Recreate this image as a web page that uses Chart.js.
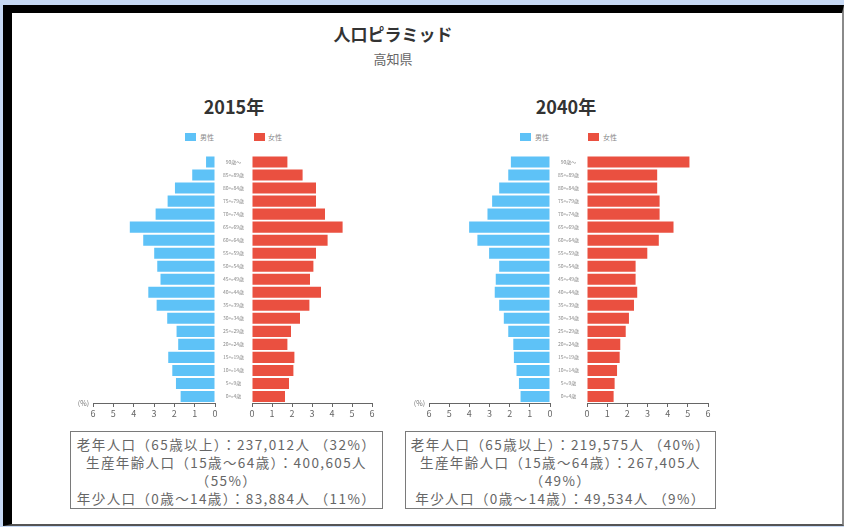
<!DOCTYPE html>
<html lang="ja">
<head>
<meta charset="utf-8">
<title>人口ピラミッド</title>
<script src="https://cdn.jsdelivr.net/npm/chart.js@4.4.0/dist/chart.umd.min.js"></script>
<style>
  html, body { margin: 0; padding: 0; }
  body {
    width: 844px; height: 527px; position: relative; overflow: hidden;
    background: #c7d9f4;
    font-family: "Noto Sans CJK JP", "Noto Sans", sans-serif;
  }
  .frame {
    position: absolute; left: 3px; top: 5px; width: 830px; height: 511px;
    background: #fff;
    border-left: 9px solid #000; border-top: 8px solid #000;
    border-right: 2px solid #8a8a8a; border-bottom: 2px solid #555;
  }
  .abs { position: absolute; }
  .title { left: 293px; top: 21px; width: 200px; text-align: center; font-size: 17px; font-weight: bold; color: #333; }
  .sub { left: 293px; top: 49px; width: 200px; text-align: center; font-size: 13px; color: #666; }
  .year { width: 120px; text-align: center; font-size: 18px; font-weight: bold; color: #333; top: 93px; }
  .box { width: 11px; height: 8px; }
  .lg { font-size: 7px; color: #888; line-height: 8px; }
  .info {
    box-sizing: border-box; top: 431px; height: 78px;
    border: 1.5px solid #7a7a7a; padding-top: 3px;
    text-align: center; font-size: 13.5px; line-height: 18px; color: #666;
    letter-spacing: 1.4px;
  }
  canvas { position: absolute; }
</style>
</head>
<body>
<div class="frame"></div>
<div class="abs title">人口ピラミッド</div>
<div class="abs sub">高知県</div>

<div class="abs year" style="left:174px">2015年</div>
<div class="abs box" style="left:185px;top:133px;background:#5ec2f7"></div>
<div class="abs lg" style="left:200px;top:133px">男性</div>
<div class="abs box" style="left:254px;top:133px;background:#ea5040"></div>
<div class="abs lg" style="left:268px;top:133px">女性</div>

<div class="abs year" style="left:506px">2040年</div>
<div class="abs box" style="left:520px;top:133px;background:#5ec2f7"></div>
<div class="abs lg" style="left:535px;top:133px">男性</div>
<div class="abs box" style="left:588px;top:133px;background:#ea5040"></div>
<div class="abs lg" style="left:603px;top:133px">女性</div>

<canvas id="m2015" width="147" height="273" style="left:73px;top:150px"></canvas>
<canvas id="f2015" width="165" height="273" style="left:215px;top:150px"></canvas>
<canvas id="m2040" width="146" height="273" style="left:409px;top:150px"></canvas>
<canvas id="f2040" width="166" height="273" style="left:550px;top:150px"></canvas>

<div class="abs info" style="left:70px;width:313px">
  <div>老年人口（65歳以上）：237,012人 （32%）</div>
  <div>生産年齢人口（15歳～64歳）：400,605人</div>
  <div>（55%）</div>
  <div>年少人口（0歳～14歳）：83,884人 （11%）</div>
</div>
<div class="abs info" style="left:405px;width:311px">
  <div>老年人口（65歳以上）：219,575人 （40%）</div>
  <div>生産年齢人口（15歳～64歳）：267,405人</div>
  <div>（49%）</div>
  <div>年少人口（0歳～14歳）：49,534人 （9%）</div>
</div>

<script>
// age groups, top row first
const ageLabels = ['90歳～', '85～89歳', '80～84歳', '75～79歳', '70～74歳', '65～69歳',
    '60～64歳', '55～59歳', '50～54歳', '45～49歳', '40～44歳', '35～39歳', '30～34歳',
    '25～29歳', '20～24歳', '15～19歳', '10～14歳', '5～9歳', '0～4歳'];

// share of total population (%)
const male2015 = [0.44, 1.12, 1.97, 2.33, 2.92, 4.19, 3.53, 2.99, 2.84, 2.68,
    3.28, 2.87, 2.35, 1.89, 1.81, 2.30, 2.10, 1.92, 1.69];
const female2015 = [1.77, 2.53, 3.20, 3.20, 3.65, 4.53, 3.78, 3.20, 3.07, 2.90,
    3.45, 2.87, 2.40, 1.95, 1.77, 2.12, 2.07, 1.85, 1.65];
const male2040 = [1.94, 2.07, 2.52, 2.87, 3.10, 4.01, 3.60, 3.02, 2.52, 2.69,
    2.74, 2.52, 2.29, 2.07, 1.82, 1.79, 1.66, 1.54, 1.46];
const female2040 = [5.08, 3.48, 3.48, 3.60, 3.60, 4.29, 3.56, 2.99, 2.41, 2.41,
    2.49, 2.33, 2.08, 1.92, 1.65, 1.62, 1.49, 1.37, 1.32];

const pctTicks = [0, 1, 2, 3, 4, 5, 6];

const MALE_COLOR = '#5ec2f7';
const FEMALE_COLOR = '#ea5040';
const FONT = '"Noto Sans CJK JP", "Noto Sans", sans-serif';

const pctLabel = {
    id: 'pctLabel',
    afterDraw(chart) {
        const { ctx, chartArea } = chart;
        ctx.save();
        ctx.font = '7px ' + FONT;
        ctx.fillStyle = '#777';
        ctx.textAlign = 'right';
        ctx.textBaseline = 'middle';
        ctx.fillText('(%)', chartArea.left - 4, chartArea.bottom);
        ctx.restore();
    }
};

function xScale(reverse) {
    return {
        type: 'linear',
        reverse: reverse,
        min: pctTicks[0],
        max: pctTicks[pctTicks.length - 1],
        afterFit: (s) => { s.height = 20; },
        afterBuildTicks: (s) => { s.ticks = pctTicks.map(v => ({ value: v })); },
        border: { display: true, color: '#666', width: 1 },
        grid: { drawOnChartArea: false, tickLength: 4, color: '#666' },
        ticks: { color: '#666', font: { family: FONT, size: 9 }, padding: 1, maxRotation: 0 }
    };
}

function renderHalf(id, values, color, isMale) {
    const ctx = document.getElementById(id).getContext('2d');
    new Chart(ctx, {
        type: 'bar',
        data: {
            labels: ageLabels,
            datasets: [{
                label: isMale ? '男性' : '女性',
                data: values,
                backgroundColor: color,
                borderWidth: 0,
                barPercentage: 0.85,
                categoryPercentage: 1
            }]
        },
        options: {
            indexAxis: 'y',
            responsive: false,
            animation: false,
            layout: { padding: isMale ? { left: 20, right: 5, top: 5.5, bottom: 0 } : { left: 0, right: 8, top: 5.5, bottom: 0 } },
            plugins: { legend: { display: false }, tooltip: { enabled: false } },
            scales: {
                x: xScale(isMale),
                y: isMale ? { display: false } : {
                    position: 'left',
                    afterFit: (s) => { s.width = 37; },
                    grid: { display: false },
                    border: { display: false },
                    ticks: { autoSkip: false, crossAlign: 'center', padding: 0, color: '#888', font: { family: FONT, size: 5 } }
                }
            }
        },
        plugins: isMale ? [pctLabel] : []
    });
}

renderHalf('m2015', male2015, MALE_COLOR, true);
renderHalf('f2015', female2015, FEMALE_COLOR, false);
renderHalf('m2040', male2040, MALE_COLOR, true);
renderHalf('f2040', female2040, FEMALE_COLOR, false);
</script>
</body>
</html>
